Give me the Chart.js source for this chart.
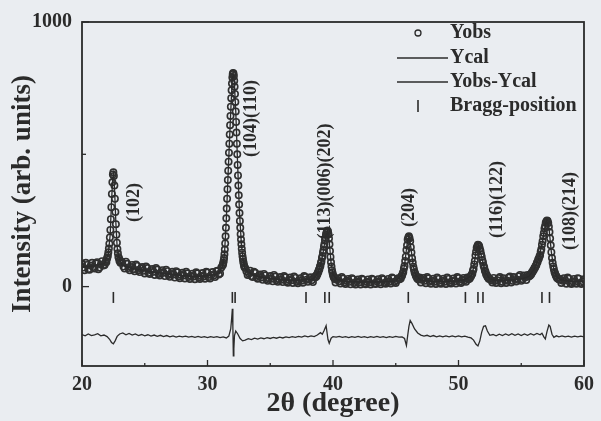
<!DOCTYPE html>
<html>
<head>
<meta charset="utf-8">
<script src="https://cdn.jsdelivr.net/npm/chart.js@4.4.1/dist/chart.umd.min.js"></script>
<style>
  html, body { margin: 0; padding: 0; background: #eaedf1; }
  #wrap { width: 601px; height: 421px; position: relative; }
</style>
</head>
<body>
<div id="wrap"><canvas id="xrd"></canvas></div>
<script>
const obsPoints = [
  [20.0,86],[20.2,62],[20.4,82],[20.6,64],[20.8,90],[21.0,68],[21.2,92],[21.4,72],[21.6,96],[21.8,82],
  [20.1,72],[20.3,90],[20.5,66],[20.7,80],[20.9,74],[21.1,88],[21.3,66],[21.5,84],[21.7,80],
  // (102)
  [21.9,96],[21.94,92],[21.98,104],[22.02,110],[22.06,118],[22.1,130],[22.14,144],[22.18,162],[22.22,186],[22.26,214],
  [22.3,255],[22.34,300],[22.38,350],[22.42,394],[22.46,424],[22.5,432],[22.54,418],[22.58,382],[22.62,332],[22.66,282],
  [22.7,236],[22.74,196],[22.78,166],[22.82,142],[22.86,126],[22.9,112],[22.94,108],[22.98,98],[23.02,100],[23.06,90],[23.1,94],
  [23.2,92],[23.4,68],[23.6,86],[23.8,62],[24.0,82],[24.2,58],[24.4,78],[24.6,55],[24.8,74],[25.0,50],
  [25.2,70],[25.4,48],[25.6,67],[25.8,44],[26.0,64],[26.2,42],[26.4,62],[26.6,40],[26.8,58],[27.0,37],
  [27.2,56],[27.4,34],[27.6,54],[27.8,32],[28.0,52],[28.2,31],[28.4,50],[28.6,29],[28.8,49],[29.0,28],
  [29.2,50],[29.4,29],[29.6,51],[29.8,30],[30.0,53],[30.2,31],[30.4,55],[30.6,36],[30.8,60],[31.0,50],[31.1,72],
  [23.3,76],[23.5,94],[23.7,70],[23.9,74],[24.1,66],[24.3,84],[24.5,62],[24.7,68],[24.9,60],[25.1,76],
  [25.3,52],[25.5,62],[25.7,56],[25.9,70],[26.1,48],[26.3,54],[26.5,52],[26.7,64],[26.9,44],[27.1,48],
  [27.3,46],[27.5,58],[27.7,38],[27.9,44],[28.1,42],[28.3,56],[28.5,36],[28.7,40],[28.9,38],[29.1,54],
  [29.3,34],[29.5,40],[29.7,38],[29.9,56],[30.1,36],[30.3,44],[30.5,42],[30.7,58],[30.9,46],
  // (104)(110)
  [31.2,80],[31.23,84],[31.26,90],[31.29,98],[31.32,108],[31.35,122],[31.38,140],[31.41,163],[31.44,190],[31.47,222],
  [31.5,258],[31.53,295],[31.56,332],[31.59,368],[31.62,403],[31.65,438],[31.68,472],[31.71,506],[31.74,540],[31.77,575],
  [31.8,610],[31.83,645],[31.86,680],[31.89,712],[31.92,742],[31.95,768],[31.98,790],[32.01,803],[32.04,807],[32.07,805],
  [32.1,796],[32.13,778],[32.16,755],[32.19,728],[32.22,698],[32.25,662],[32.28,622],[32.31,582],[32.34,540],[32.37,500],
  [32.4,460],[32.43,420],[32.46,382],[32.49,345],[32.52,310],[32.55,278],[32.58,248],[32.61,222],[32.64,198],[32.67,178],
  [32.7,160],[32.73,143],[32.76,128],[32.79,115],[32.82,104],[32.85,95],[32.88,87],[32.91,80],[32.94,74],
  [33.0,70],[33.2,44],[33.4,60],[33.6,36],[33.8,52],[34.0,30],[34.2,46],[34.4,26],[34.6,42],[34.8,22],
  [35.0,40],[35.2,20],[35.4,38],[35.6,18],[35.8,36],[36.0,17],[36.2,35],[36.4,15],[36.6,34],[36.8,14],
  [37.0,33],[37.2,13],[37.4,32],[37.6,15],[37.8,36],[38.0,18],[38.2,35],[38.4,17],[38.5,36],
  [33.1,58],[33.3,50],[33.5,40],[33.7,56],[33.9,36],[34.1,40],[34.3,34],[34.5,48],[34.7,28],[34.9,32],
  [35.1,30],[35.3,44],[35.5,24],[35.7,28],[35.9,26],[36.1,40],[36.3,20],[36.5,26],[36.7,24],[36.9,38],
  [37.1,18],[37.3,24],[37.5,22],[37.7,40],[37.9,26],[38.1,28],[38.3,24],
  // (113)(006)(202)
  [38.6,35],[38.64,40],[38.68,38],[38.72,46],[38.76,47],[38.8,54],[38.84,56],[38.88,64],[38.92,67],[38.96,76],
  [39.0,79],[39.04,90],[39.08,95],[39.12,108],[39.16,115],[39.2,128],[39.24,137],[39.28,152],[39.32,161],[39.36,176],
  [39.4,185],[39.44,197],[39.48,204],[39.52,210],[39.56,212],[39.6,208],[39.64,198],[39.68,182],[39.72,160],[39.76,135],
  [39.8,112],[39.84,92],[39.88,76],[39.92,62],[39.96,52],[40.0,44],[40.04,38],[40.08,34],[40.12,31],[40.16,29],
  [40.2,16],[40.4,32],[40.6,12],[40.8,30],[41.0,10],[41.2,29],[41.4,9],[41.6,28],[41.8,8],[42.0,27],
  [42.2,8],[42.4,26],[42.6,9],[42.8,27],[43.0,8],[43.2,26],[43.4,10],[43.6,28],[43.8,9],[44.0,27],
  [44.2,11],[44.4,29],[44.6,12],[44.8,31],[45.0,14],[45.2,32],
  [40.3,26],[40.5,20],[40.7,36],[40.9,16],[41.1,22],[41.3,18],[41.5,32],[41.7,14],[41.9,20],[42.1,16],
  [42.3,30],[42.5,12],[42.7,18],[42.9,16],[43.1,30],[43.3,12],[43.5,20],[43.7,16],[43.9,32],[44.1,14],
  [44.3,20],[44.5,18],[44.7,34],[44.9,18],[45.1,24],
  // (204)
  [45.3,28],[45.35,32],[45.4,31],[45.45,39],[45.5,41],[45.55,50],[45.6,55],[45.65,68],[45.7,78],[45.75,97],
  [45.8,113],[45.85,138],[45.9,156],[45.95,178],[46.0,186],[46.05,190],[46.1,183],[46.15,171],[46.2,149],[46.25,129],
  [46.3,107],[46.35,91],[46.4,75],[46.45,65],[46.5,54],[46.55,49],[46.6,41],[46.65,38],[46.7,32],[46.75,31],[46.8,27],[46.85,28],
  [46.9,34],[47.0,16],[47.2,33],[47.4,13],[47.6,31],[47.8,11],[48.0,30],[48.2,10],[48.4,29],[48.6,11],
  [48.8,30],[49.0,10],[49.2,29],[49.4,12],[49.6,31],[49.8,12],[50.0,32],[50.2,14],[50.4,33],[50.6,18],[50.7,34],
  [47.1,26],[47.3,22],[47.5,36],[47.7,18],[47.9,22],[48.1,18],[48.3,34],[48.5,14],[48.7,22],[48.9,18],
  [49.1,34],[49.3,16],[49.5,22],[49.7,20],[49.9,36],[50.1,18],[50.3,26],[50.5,24],
  // (116)(122)
  [50.8,28],[50.85,32],[50.9,31],[50.95,38],[51.0,39],[51.05,46],[51.1,49],[51.15,60],[51.2,67],[51.25,84],
  [51.3,97],[51.35,118],[51.4,132],[51.45,147],[51.5,153],[51.55,158],[51.6,156],[51.65,153],[51.7,143],[51.75,135],
  [51.8,122],[51.85,113],[51.9,100],[51.95,91],[52.0,79],[52.05,72],[52.1,61],[52.15,56],[52.2,47],[52.25,44],
  [52.3,37],[52.35,35],[52.4,30],[52.5,29],[52.6,24],
  [52.7,16],[52.8,33],[53.0,14],[53.2,32],[53.4,13],[53.6,32],[53.8,14],[54.0,34],[54.2,16],[54.4,36],
  [54.6,19],[54.8,39],[55.0,22],[55.2,42],[55.4,25],[55.5,44],
  [52.9,22],[53.1,24],[53.3,36],[53.5,18],[53.7,24],[53.9,22],[54.1,38],[54.3,22],[54.5,28],[54.7,26],
  [54.9,44],[55.1,28],[55.3,34],
  // (108)(214)
  [55.6,38],[55.65,42],[55.7,41],[55.75,47],[55.8,47],[55.85,54],[55.9,55],[55.95,62],[56.0,63],[56.05,70],
  [56.1,71],[56.15,79],[56.2,81],[56.25,90],[56.3,93],[56.35,102],[56.4,105],[56.45,114],[56.5,119],[56.55,132],
  [56.6,141],[56.65,158],[56.7,171],[56.75,190],[56.8,203],[56.85,220],[56.9,229],[56.95,241],[57.0,246],[57.05,250],
  [57.1,248],[57.15,240],[57.2,226],[57.25,206],[57.3,182],[57.35,156],[57.4,130],[57.45,108],[57.5,90],[57.55,76],
  [57.6,66],[57.65,55],[57.7,50],[57.75,42],[57.8,39],[57.85,33],[57.9,32],[58.0,27],[58.1,27],
  [58.2,14],[58.4,32],[58.6,11],[58.8,30],[59.0,10],[59.2,29],[59.4,11],[59.6,30],[59.8,10],[60.0,28],
  [58.3,22],[58.5,24],[58.7,34],[58.9,14],[59.1,20],[59.3,18],[59.5,32],[59.7,14],[59.9,20]
];

// calculated profile
const calPoints = [
  [20.0,74],[21.0,79],[21.8,88],[22.1,125],[22.25,200],[22.35,320],[22.45,410],[22.52,428],[22.6,360],[22.7,240],
  [22.8,150],[22.95,105],[23.2,82],[24.0,68],[25.0,59],[26.0,52],[27.0,47],[28.0,42],[29.0,39],[30.0,41],
  [30.6,45],[31.0,58],[31.2,78],[31.35,120],[31.5,255],[31.65,435],[31.8,605],[31.95,765],[32.04,805],[32.13,780],
  [32.25,665],[32.4,462],[32.55,280],[32.7,160],[32.85,96],[33.0,64],[33.5,48],[34.0,38],[35.0,31],[36.0,26],
  [37.0,24],[37.9,27],[38.4,28],[38.8,52],[39.0,80],[39.2,125],[39.4,185],[39.55,212],[39.7,170],[39.85,88],
  [40.0,45],[40.3,27],[41.0,20],[42.0,18],[43.0,18],[44.0,19],[45.0,22],[45.5,42],[45.7,80],[45.9,160],
  [46.05,192],[46.2,150],[46.4,76],[46.6,42],[47.0,24],[48.0,20],[49.0,20],[50.0,22],[50.55,27],[51.0,40],
  [51.2,70],[51.4,135],[51.57,158],[51.8,120],[52.0,80],[52.2,48],[52.5,29],[53.0,23],[54.0,24],[55.0,29],
  [55.6,38],[56.0,64],[56.4,106],[56.7,172],[56.9,230],[57.05,250],[57.2,226],[57.4,130],[57.6,65],[57.8,38],
  [58.1,26],[59.0,20],[60.0,20]
];

// difference curve Yobs - Ycal (offset below zero)
const diffPoints = [
  [20.0,-181],[20.25,-186],[20.5,-179],[20.75,-185],[21.0,-182],[21.25,-178],[21.5,-186],[21.75,-183],[22.0,-189],[22.2,-199],
  [22.35,-211],[22.5,-216],[22.65,-204],[22.8,-188],[23.0,-179],[23.25,-175],[23.5,-182],[23.75,-177],[24.0,-183],[24.25,-179],
  [24.5,-185],[24.75,-181],[25.0,-186],[25.25,-182],[25.5,-187],[25.75,-183],[26.0,-188],[26.25,-184],[26.5,-189],[26.75,-185],
  [27.0,-190],[27.25,-186],[27.5,-191],[27.75,-187],[28.0,-190],[28.25,-187],[28.5,-191],[28.75,-188],[29.0,-192],[29.25,-188],
  [29.5,-192],[29.75,-189],[30.0,-193],[30.25,-189],[30.5,-192],[30.75,-189],[31.0,-193],[31.25,-190],[31.5,-194],[31.7,-187],
  [31.85,-160],[31.93,-118],[31.98,-84],[32.02,-150],[32.06,-262],[32.1,-235],[32.15,-185],[32.25,-168],[32.4,-178],[32.6,-196],
  [32.8,-205],[33.0,-202],[33.25,-197],[33.5,-200],[33.75,-195],[34.0,-198],[34.25,-194],[34.5,-197],[34.75,-193],[35.0,-196],
  [35.25,-192],[35.5,-195],[35.75,-191],[36.0,-194],[36.25,-190],[36.5,-193],[36.75,-189],[37.0,-192],[37.25,-188],[37.5,-191],
  [37.75,-186],[38.0,-190],[38.25,-186],[38.5,-189],[38.75,-183],[39.0,-174],[39.15,-180],[39.3,-165],[39.45,-148],[39.6,-200],
  [39.7,-214],[39.85,-195],[40.0,-189],[40.25,-191],[40.5,-188],[40.75,-192],[41.0,-189],[41.25,-193],[41.5,-189],[41.75,-192],
  [42.0,-188],[42.25,-192],[42.5,-189],[42.75,-193],[43.0,-189],[43.25,-192],[43.5,-188],[43.75,-192],[44.0,-189],[44.25,-193],
  [44.5,-189],[44.75,-192],[45.0,-188],[45.25,-191],[45.5,-190],[45.7,-196],[45.85,-222],[45.95,-185],[46.05,-150],[46.15,-128],
  [46.3,-140],[46.5,-160],[46.75,-175],[47.0,-183],[47.25,-187],[47.5,-184],[47.75,-189],[48.0,-185],[48.25,-190],[48.5,-186],
  [48.75,-190],[49.0,-186],[49.25,-190],[49.5,-186],[49.75,-190],[50.0,-186],[50.25,-190],[50.5,-187],[50.75,-191],[51.0,-194],
  [51.2,-202],[51.4,-218],[51.55,-224],[51.7,-205],[51.85,-172],[52.0,-150],[52.15,-148],[52.3,-168],[52.5,-184],[52.75,-181],
  [53.0,-186],[53.25,-180],[53.5,-185],[53.75,-179],[54.0,-184],[54.25,-178],[54.5,-184],[54.75,-179],[55.0,-185],[55.25,-179],
  [55.5,-184],[55.75,-178],[56.0,-183],[56.25,-177],[56.5,-182],[56.65,-176],[56.8,-190],[56.92,-198],[57.05,-170],[57.2,-145],
  [57.3,-150],[57.45,-180],[57.6,-192],[57.8,-186],[58.0,-190],[58.25,-186],[58.5,-190],[58.75,-187],[59.0,-191],[59.25,-187],
  [59.5,-190],[59.75,-187],[60.0,-190]
];

const braggPositions = [22.5, 31.98, 32.2, 37.85, 39.35, 39.7, 46.0, 50.55, 51.55, 51.95, 56.65, 57.25];
const braggLevel = -41;

// reflection labels: text, 2theta, intensity where the text starts
const peakLabels = ['(102)', '(104)(110)', '(113)(006)(202)', '(204)', '(116)(122)', '(108)(214)'];
const peakLabelTheta = [24.17, 33.46, 39.37, 46.1, 53.07, 58.95];
const peakLabelStart = [244, 490, 178, 225, 184, 138];

const xTicks = [20, 25, 30, 35, 40, 45, 50, 55, 60];
const yTicks = [0, 500, 1000];
const yLabelled = [0, 1000];

const INK = '#2b2b2b';
const SERIF = '"Liberation Serif", "DejaVu Serif", serif';

const toXY = arr => arr.map(p => ({ x: p[0], y: p[1] }));

const decor = {
  id: 'decor',
  beforeDraw(chart) {
    const c = chart.ctx;
    c.save();
    c.fillStyle = '#eaedf1';
    c.fillRect(0, 0, chart.width, chart.height);
    c.restore();
  },
  afterDraw(chart) {
    const c = chart.ctx;
    const a = chart.chartArea;
    const xs = chart.scales.x, ys = chart.scales.y;
    c.save();
    c.strokeStyle = INK;
    c.lineWidth = 1.8;
    c.strokeRect(a.left, a.top, a.right - a.left, a.bottom - a.top);

    // inward ticks
    c.lineWidth = 1.3;
    xTicks.forEach(v => {
      const px = xs.getPixelForValue(v);
      const len = v % 10 === 0 ? 6 : 3;
      c.beginPath(); c.moveTo(px, a.bottom); c.lineTo(px, a.bottom - len); c.stroke();
    });
    yTicks.forEach(v => {
      const py = ys.getPixelForValue(v);
      const len = yLabelled.includes(v) ? 7 : 4;
      c.beginPath(); c.moveTo(a.left, py); c.lineTo(a.left + len, py); c.stroke();
    });

    // reflection labels
    c.fillStyle = INK;
    c.font = 'bold 18px ' + SERIF;
    c.textAlign = 'left';
    c.textBaseline = 'middle';
    peakLabels.forEach((t, i) => {
      const px = xs.getPixelForValue(peakLabelTheta[i]);
      const py = ys.getPixelForValue(peakLabelStart[i]);
      c.save();
      c.translate(px, py);
      c.rotate(-Math.PI / 2);
      c.fillText(t, 0, 0);
      c.restore();
    });

    // legend
    const lx = 397, tx = 450, rows = [33, 58, 82, 106];
    c.font = 'bold 20px ' + SERIF;
    c.lineWidth = 1.3;
    c.beginPath(); c.arc(418, rows[0], 3, 0, Math.PI * 2); c.stroke();
    c.beginPath(); c.moveTo(lx, rows[1]); c.lineTo(tx - 2, rows[1]); c.stroke();
    c.beginPath(); c.moveTo(lx, rows[2]); c.lineTo(tx - 2, rows[2]); c.stroke();
    c.lineWidth = 1.6;
    c.beginPath(); c.moveTo(418, rows[3] - 6); c.lineTo(418, rows[3] + 6); c.stroke();
    ['Yobs', 'Ycal', 'Yobs-Ycal', 'Bragg-position'].forEach((t, i) => c.fillText(t, tx, rows[i]));
    c.restore();
  }
};

new Chart(document.getElementById('xrd'), {
  type: 'scatter',
  data: {
    datasets: [
      { label: 'Ycal', data: toXY(calPoints), showLine: true, pointRadius: 0, borderColor: INK, borderWidth: 1.3 },
      { label: 'Yobs', data: toXY(obsPoints), showLine: false, pointStyle: 'circle', pointRadius: 3.2,
        pointBorderWidth: 1.6, pointBorderColor: '#303030', pointBackgroundColor: 'rgba(0,0,0,0)' },
      { label: 'Yobs-Ycal', data: toXY(diffPoints), showLine: true, pointRadius: 0, borderColor: INK, borderWidth: 1.3 },
      { label: 'Bragg-position', data: braggPositions.map(t => ({ x: t, y: braggLevel })), showLine: false,
        pointStyle: 'line', rotation: 90, pointRadius: 5.5, pointBorderWidth: 1.6, pointBorderColor: INK }
    ]
  },
  options: {
    responsive: true,
    maintainAspectRatio: false,
    animation: false,
    devicePixelRatio: 1,
    layout: { padding: { left: 0, right: 11, top: 22, bottom: 0 } },
    plugins: { legend: { display: false }, tooltip: { enabled: false } },
    scales: {
      x: {
        type: 'linear', min: 20, max: 60,
        afterBuildTicks: s => { s.ticks = xTicks.map(v => ({ value: v })); },
        afterFit: s => { s.height = 55; },
        grid: { display: false, drawTicks: false },
        border: { display: false },
        ticks: {
          autoSkip: false, maxRotation: 0, padding: 7, color: INK,
          font: { family: SERIF, size: 20, weight: 'bold' },
          callback: v => (v % 10 === 0 ? v : '')
        },
        title: { display: true, text: '2θ (degree)', color: INK,
          font: { family: SERIF, size: 28, weight: 'bold' }, padding: { top: 0, bottom: 0 } }
      },
      y: {
        min: -300, max: 1000,
        afterBuildTicks: s => { s.ticks = yTicks.map(v => ({ value: v })); },
        afterFit: s => { s.width = 82; },
        grid: { display: false, drawTicks: false },
        border: { display: false },
        ticks: {
          padding: 10, color: INK,
          font: { family: SERIF, size: 20, weight: 'bold' },
          callback: v => (yLabelled.includes(v) ? v : '')
        },
        title: { display: true, text: 'Intensity (arb. units)', color: INK,
          font: { family: SERIF, size: 27, weight: 'bold' }, padding: { top: 7, bottom: 0 } }
      }
    }
  },
  plugins: [decor]
});
</script>
</body>
</html>
